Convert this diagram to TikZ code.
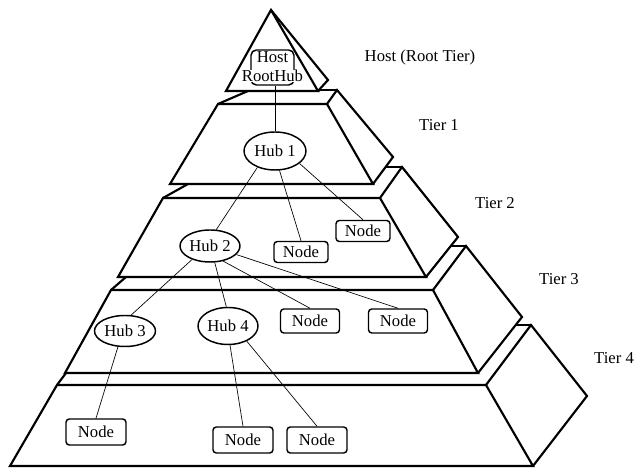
\documentclass[tikz,border=0pt]{standalone}
\usepackage{fontspec}
\setmainfont{Liberation Serif}
\usetikzlibrary{shapes.geometric}
\begin{document}
\begin{tikzpicture}[x=0.75pt,y=-0.75pt,
  tier/.style={line width=1.6pt, line join=miter},
  hub/.style={draw, ellipse, line width=1.1pt, inner sep=0pt, fill=white},
  leaf/.style={draw, rounded corners=2.5pt, line width=1.1pt, inner sep=0pt, fill=white},
  conn/.style={line width=0.5pt},
  lbl/.style={inner sep=0pt},
  font=\fontsize{12.5}{14}\selectfont]
\useasboundingbox[fill=white] (0,0) rectangle (640,473);

% Root tier (triangle)
\draw[tier] (271,10) -- (226,91) -- (318,91) -- cycle;
\draw[tier] (271,10) -- (328,80) -- (318,91);
% Tier 1
\draw[tier] (218,104) -- (327,104) -- (373,184) -- (170,184) -- cycle;
\draw[tier] (327,104) -- (337,90) -- (393,157) -- (373,184);
\draw[tier] (318,90) -- (337,90);
\draw[tier] (218,104) -- (248,91);
% Tier 2
\draw[tier] (163,198) -- (380,198) -- (426,277) -- (118,277) -- cycle;
\draw[tier] (380,198) -- (402,167) -- (458,237) -- (426,277);
\draw[tier] (385,167) -- (402,167);
\draw[tier] (163,198) -- (188,184);
% Tier 3
\draw[tier] (111,290) -- (433,290) -- (478,373) -- (65,373) -- cycle;
\draw[tier] (433,290) -- (466,246) -- (522,317) -- (478,373);
\draw[tier] (451,246) -- (466,246);
\draw[tier] (111,290) -- (126,277);
% Tier 4
\draw[tier] (57,385) -- (486,385) -- (533,466) -- (10,466) -- cycle;
\draw[tier] (486,385) -- (531,325) -- (587,396) -- (533,466);
\draw[tier] (516,325) -- (531,325);
\draw[tier] (57,385) -- (66,373);

% Tier labels
\node[lbl] (l0) at (420,57) {Host (Root Tier)};
\node[lbl] (l1) at (439,125) {Tier 1};
\node[lbl] (l2) at (495,203) {Tier 2};
\node[lbl] (l3) at (559,279) {Tier 3};
\node[lbl] (l4) at (614,358) {Tier 4};

% Host / RootHub
\node[draw, rounded corners=4pt, line width=1.1pt, minimum width=32.25pt, minimum height=26.25pt, inner sep=0pt] (host) at (272.5,67.5) {};
\node[lbl] (hosttxt) at (272.5,57) {Host};
\node[fill=white, inner sep=0.4pt] (roothub) at (272.5,76) {RootHub};

% Hubs
\node[hub, minimum width=46.5pt, minimum height=28.5pt] (hub1) at (275,151) {Hub 1};
\node[hub, minimum width=45pt, minimum height=24pt] (hub2) at (210,246) {Hub 2};
\node[hub, minimum width=45.75pt, minimum height=23.25pt] (hub3) at (125,331) {Hub 3};
\node[hub, minimum width=45pt, minimum height=27.75pt] (hub4) at (228,326) {Hub 4};

% Leaf nodes
\node[leaf, minimum width=40.5pt, minimum height=15.75pt] (t2a) at (301,252) {Node};
\node[leaf, minimum width=40.5pt, minimum height=15.75pt] (t2b) at (363,231) {Node};
\node[leaf, minimum width=44.25pt, minimum height=18pt] (t3a) at (310,321) {Node};
\node[leaf, minimum width=44.25pt, minimum height=18pt] (t3b) at (398,321) {Node};
\node[leaf, minimum width=45pt, minimum height=19.5pt] (t4a) at (96,432) {Node};
\node[leaf, minimum width=45pt, minimum height=19.5pt] (t4b) at (243,440) {Node};
\node[leaf, minimum width=45pt, minimum height=19.5pt] (t4c) at (317,440) {Node};

% Connectors
\draw[conn] (host.south -| hub1.north) -- (hub1.north);
\draw[conn] (hub1.223) -- (hub2.69);
\draw[conn] (hub1.-77) -- (t2a.north);
\draw[conn] (hub1.-27) -- (t2b.north);
\draw[conn] (hub2.217) -- (hub3.69);
\draw[conn] (hub2.-74) -- (hub4.95);
\draw[conn] (hub2.-49) -- (t3a.north);
\draw[conn] (hub2.-18) -- (t3b.north);
\draw[conn] (hub3.246) -- (t4a.north);
\draw[conn] (hub4.-84) -- (t4b.north);
\draw[conn] (hub4.-39) -- (t4c.north);
\end{tikzpicture}
\end{document}
